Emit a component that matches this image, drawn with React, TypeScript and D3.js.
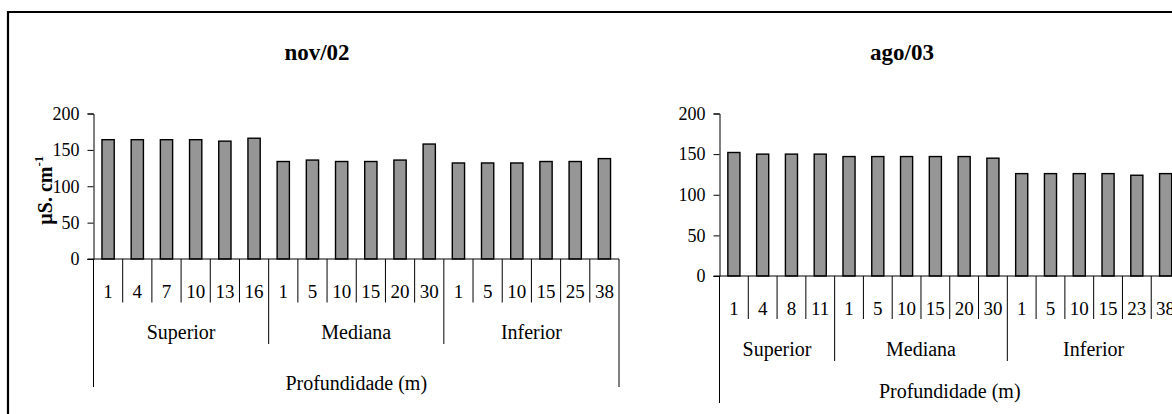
import React, { useEffect, useRef } from 'react';
import * as d3 from 'd3';

// nov/02
const novLabels = ['1', '4', '7', '10', '13', '16', '1', '5', '10', '15', '20', '30', '1', '5', '10', '15', '25', '38'];
const novValues = [164, 164, 164, 164, 162, 166, 134, 136, 134, 134, 136, 158, 132, 132, 132, 134, 134, 138];
const novGroups = ['Superior', 'Mediana', 'Inferior'];
const novGroupSizes = [6, 6, 6];

// ago/03
const agoLabels = ['1', '4', '8', '11', '1', '5', '10', '15', '20', '30', '1', '5', '10', '15', '23', '38'];
const agoValues = [152, 150, 150, 150, 147, 147, 147, 147, 147, 145, 126, 126, 126, 126, 124, 126];
const agoGroups = ['Superior', 'Mediana', 'Inferior'];
const agoGroupSizes = [4, 6, 6];

const yTicks = [0, 50, 100, 150, 200];
const FONT = "'Liberation Serif', 'DejaVu Serif', serif";

type Panel = {
  title: string;
  labels: string[];
  values: number[];
  groups: string[];
  sizes: number[];
  x0: number;
  x1: number;
  yTop: number;
  yBase: number;
  titleX: number;
  tickDrop: number;
  groupDrop: number;
  outerDrop: number;
  catY: number;
  groupY: number;
  axisTitleY: number;
  yLabel: boolean;
};

const App = () => {
  const ref = useRef<SVGSVGElement>(null);

  useEffect(() => {
    const svg = d3.select(ref.current);
    svg.selectAll('*').remove();

    // outer frame (top and left only, the rest is cropped)
    svg.append('path')
      .attr('d', 'M8,414 L8,12 L1172,12')
      .attr('fill', 'none')
      .attr('stroke', '#000')
      .attr('stroke-width', 2.2);

    const panels: Panel[] = [
      {
        title: 'nov/02', labels: novLabels, values: novValues, groups: novGroups, sizes: novGroupSizes,
        x0: 93.5, x1: 619, yTop: 113.5, yBase: 259, titleX: 317,
        tickDrop: 302.5, groupDrop: 344, outerDrop: 387,
        catY: 291, groupY: 332, axisTitleY: 383, yLabel: true,
      },
      {
        title: 'ago/03', labels: agoLabels, values: agoValues, groups: agoGroups, sizes: agoGroupSizes,
        x0: 719.5, x1: 1180, yTop: 113.5, yBase: 276, titleX: 902,
        tickDrop: 319, groupDrop: 361, outerDrop: 403,
        catY: 308, groupY: 349, axisTitleY: 391, yLabel: false,
      },
    ];

    panels.forEach(p => {
      const g = svg.append('g').style('font-family', FONT);
      const x = d3.scaleBand<number>()
        .domain(d3.range(p.values.length))
        .range([p.x0, p.x1])
        .padding(0);
      const y = d3.scaleLinear().domain([0, 200]).range([p.yBase, p.yTop]);
      const bw = x.bandwidth();
      const barW = bw * 0.42;

      // title
      g.append('text')
        .attr('x', p.titleX)
        .attr('y', 52)
        .attr('text-anchor', 'middle')
        .attr('dominant-baseline', 'central')
        .style('font-weight', 'bold')
        .style('font-size', '23px')
        .text(p.title);

      // y axis
      const yAxis = g.append('g')
        .attr('transform', `translate(${p.x0},0)`)
        .call(d3.axisLeft(y).tickValues(yTicks).tickSize(6).tickPadding(8));
      yAxis.attr('font-family', null).attr('font-size', null);
      yAxis.select('.domain').attr('stroke', '#000');
      yAxis.selectAll('line').attr('stroke', '#000');
      yAxis.selectAll('text')
        .style('font-family', FONT)
        .style('font-size', '18px')
        .attr('fill', '#000');

      // bars
      g.append('g')
        .selectAll('rect')
        .data(p.values)
        .join('rect')
        .attr('x', (_, i) => (x(i) as number) + (bw - barW) / 2)
        .attr('y', d => y(d))
        .attr('width', barW)
        .attr('height', d => y(0) - y(d))
        .attr('fill', '#969696')
        .attr('stroke', '#000')
        .attr('stroke-width', 1.4);

      // baseline
      g.append('line')
        .attr('x1', p.x0 - 6)
        .attr('x2', p.x1)
        .attr('y1', y(0))
        .attr('y2', y(0))
        .attr('stroke', '#000');

      // category dividers
      const starts: number[] = [];
      let acc = 0;
      p.sizes.forEach(s => { starts.push(acc); acc += s; });
      const boundaries = d3.range(p.values.length + 1);
      g.append('g')
        .selectAll('line')
        .data(boundaries)
        .join('line')
        .attr('x1', i => p.x0 + i * bw)
        .attr('x2', i => p.x0 + i * bw)
        .attr('y1', y(0))
        .attr('y2', i => {
          if (i === 0 || i === p.values.length) return p.outerDrop;
          if (starts.includes(i)) return p.groupDrop;
          return p.tickDrop;
        })
        .attr('stroke', '#000')
        .attr('stroke-width', 1);

      // category labels
      g.append('g')
        .selectAll('text')
        .data(p.labels)
        .join('text')
        .attr('x', (_, i) => (x(i) as number) + bw / 2)
        .attr('y', p.catY)
        .attr('text-anchor', 'middle')
        .attr('dominant-baseline', 'central')
        .style('font-size', '19px')
        .text(d => d);

      // group labels
      g.append('g')
        .selectAll('text')
        .data(p.groups)
        .join('text')
        .attr('x', (_, i) => p.x0 + (starts[i] + p.sizes[i] / 2) * bw)
        .attr('y', p.groupY)
        .attr('text-anchor', 'middle')
        .attr('dominant-baseline', 'central')
        .style('font-size', '20px')
        .text(d => d);

      // axis title
      g.append('text')
        .attr('x', (p.x0 + p.x1) / 2)
        .attr('y', p.axisTitleY)
        .attr('text-anchor', 'middle')
        .attr('dominant-baseline', 'central')
        .style('font-size', '20px')
        .text('Profundidade (m)');

      if (p.yLabel) {
        const t = g.append('text')
          .attr('transform', `translate(52,${(p.yTop + p.yBase) / 2 + 4}) rotate(-90)`)
          .attr('text-anchor', 'middle')
          .style('font-weight', 'bold')
          .style('font-size', '20px');
        t.append('tspan').text('µS. cm');
        t.append('tspan').attr('dy', -9).style('font-size', '13px').text('-1');
      }
    });

    return () => { svg.selectAll('*').remove(); };
  }, []);

  return (
    <svg
      ref={ref}
      width={1172}
      height={414}
      style={{ position: 'absolute', left: 0, top: 0, background: '#fff' }}
    />
  );
};

export default App;
